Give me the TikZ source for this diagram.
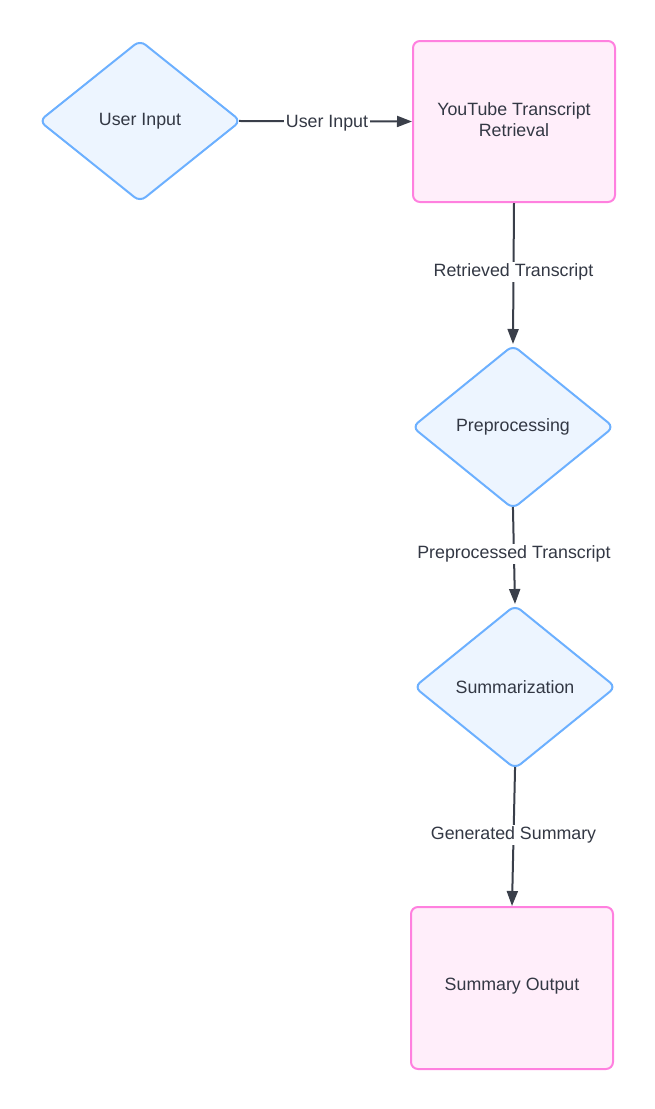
\documentclass[tikz,border=0pt]{standalone}
\usepackage{fontspec}
\setmainfont{Liberation Sans}
\usetikzlibrary{shapes.geometric,arrows.meta}
\definecolor{dfill}{HTML}{EDF5FF}
\definecolor{dline}{HTML}{6CB0FF}
\definecolor{rfill}{HTML}{FFEEFA}
\definecolor{rline}{HTML}{FF80DF}
\definecolor{ink}{HTML}{3A3F4A}
\definecolor{txt}{HTML}{333844}
\begin{document}
\begin{tikzpicture}[x=1pt,y=-1pt,
  every node/.style={font=\fontsize{17.8pt}{21.5pt}\selectfont, text=txt},
  decision/.style={diamond, draw=dline, fill=dfill, line width=2pt, rounded corners=7pt,
    aspect=1.25, inner sep=0pt, minimum width=202pt, minimum height=162pt},
  process/.style={rectangle, draw=rline, fill=rfill, line width=2pt, rounded corners=7pt,
    minimum width=202pt, minimum height=161pt, align=center},
  flow/.style={draw=ink, line width=2pt, -{Triangle[length=15pt,width=11pt]}},
  fromdia/.style={shorten <=-3pt},
  lbl/.style={fill=white, inner sep=1.5pt}
]
\useasboundingbox (0,0) rectangle (655,1109);
\node[decision] (ui) at (140,121) {User Input};
\node[process] (yt) at (514,121.5) {\raisebox{2pt}{\begin{tabular}{@{}c@{}}YouTube Transcript\\[-1pt]Retrieval\end{tabular}}};
\node[decision, minimum height=164pt] (pre) at (513,427) {Preprocessing};
\node[decision, minimum height=164pt] (sum) at (515,687) {Summarization};
\node[process, minimum height=162pt] (out) at (512,988) {\raisebox{7pt}{Summary Output}};

\draw[flow, fromdia] (ui.east) -- node[lbl, pos=0.5, yshift=-2pt] {User Input} (yt.west);
\draw[flow] (yt.south) -- node[lbl, pos=0.49] {Retrieved Transcript} (pre.north);
\draw[flow, fromdia] (pre.south) -- node[lbl, pos=0.47] {Preprocessed Transcript} (sum.north);
\draw[flow, fromdia] (sum.south) -- node[lbl, pos=0.48] {Generated Summary} (out.north);
\end{tikzpicture}
\end{document}
